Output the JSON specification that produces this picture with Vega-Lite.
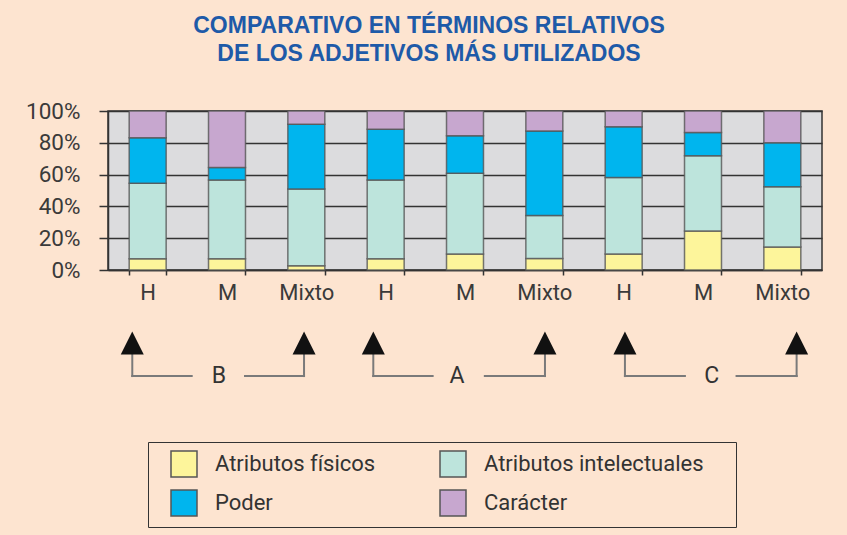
{
  "$schema": "https://vega.github.io/schema/vega-lite/v6.json",
  "width": 714,
  "height": 159,
  "autosize": "none",
  "padding": {"left": 108, "top": 111, "right": 25, "bottom": 265},
  "background": "#fde4d0",
  "title": {
    "text": ["COMPARATIVO EN TÉRMINOS RELATIVOS", "DE LOS ADJETIVOS MÁS UTILIZADOS"],
    "font": "Liberation Sans",
    "fontSize": 23,
    "fontWeight": "bold",
    "color": "#1e5aa8",
    "lineHeight": 28,
    "anchor": "middle",
    "offset": 34,
    "dx": -36
  },
  "config": {
    "view": {"fill": "#dcdcde", "stroke": "#333333", "strokeWidth": 1.5},
    "font": "Roboto"
  },
  "layer": [
    {
      "data": {
        "values": [
          {"grupo": "B-H", "tipo": "Atributos físicos", "orden": 1, "valor": 7},
          {"grupo": "B-H", "tipo": "Atributos intelectuales", "orden": 2, "valor": 47.5},
          {"grupo": "B-H", "tipo": "Poder", "orden": 3, "valor": 28.7},
          {"grupo": "B-H", "tipo": "Carácter", "orden": 4, "valor": 16.8},
          {"grupo": "B-M", "tipo": "Atributos físicos", "orden": 1, "valor": 7},
          {"grupo": "B-M", "tipo": "Atributos intelectuales", "orden": 2, "valor": 49.6},
          {"grupo": "B-M", "tipo": "Poder", "orden": 3, "valor": 7.8},
          {"grupo": "B-M", "tipo": "Carácter", "orden": 4, "valor": 35.6},
          {"grupo": "B-Mixto", "tipo": "Atributos físicos", "orden": 1, "valor": 2.7},
          {"grupo": "B-Mixto", "tipo": "Atributos intelectuales", "orden": 2, "valor": 48.2},
          {"grupo": "B-Mixto", "tipo": "Poder", "orden": 3, "valor": 40.7},
          {"grupo": "B-Mixto", "tipo": "Carácter", "orden": 4, "valor": 8.4},
          {"grupo": "A-H", "tipo": "Atributos físicos", "orden": 1, "valor": 7},
          {"grupo": "A-H", "tipo": "Atributos intelectuales", "orden": 2, "valor": 49.6},
          {"grupo": "A-H", "tipo": "Poder", "orden": 3, "valor": 31.9},
          {"grupo": "A-H", "tipo": "Carácter", "orden": 4, "valor": 11.5},
          {"grupo": "A-M", "tipo": "Atributos físicos", "orden": 1, "valor": 10.1},
          {"grupo": "A-M", "tipo": "Atributos intelectuales", "orden": 2, "valor": 50.7},
          {"grupo": "A-M", "tipo": "Poder", "orden": 3, "valor": 23.7},
          {"grupo": "A-M", "tipo": "Carácter", "orden": 4, "valor": 15.5},
          {"grupo": "A-Mixto", "tipo": "Atributos físicos", "orden": 1, "valor": 7.3},
          {"grupo": "A-Mixto", "tipo": "Atributos intelectuales", "orden": 2, "valor": 26.9},
          {"grupo": "A-Mixto", "tipo": "Poder", "orden": 3, "valor": 53.2},
          {"grupo": "A-Mixto", "tipo": "Carácter", "orden": 4, "valor": 12.6},
          {"grupo": "C-H", "tipo": "Atributos físicos", "orden": 1, "valor": 10.1},
          {"grupo": "C-H", "tipo": "Atributos intelectuales", "orden": 2, "valor": 48},
          {"grupo": "C-H", "tipo": "Poder", "orden": 3, "valor": 32},
          {"grupo": "C-H", "tipo": "Carácter", "orden": 4, "valor": 9.9},
          {"grupo": "C-M", "tipo": "Atributos físicos", "orden": 1, "valor": 24.5},
          {"grupo": "C-M", "tipo": "Atributos intelectuales", "orden": 2, "valor": 47.4},
          {"grupo": "C-M", "tipo": "Poder", "orden": 3, "valor": 14.5},
          {"grupo": "C-M", "tipo": "Carácter", "orden": 4, "valor": 13.6},
          {"grupo": "C-Mixto", "tipo": "Atributos físicos", "orden": 1, "valor": 14.5},
          {"grupo": "C-Mixto", "tipo": "Atributos intelectuales", "orden": 2, "valor": 37.9},
          {"grupo": "C-Mixto", "tipo": "Poder", "orden": 3, "valor": 27.7},
          {"grupo": "C-Mixto", "tipo": "Carácter", "orden": 4, "valor": 19.9}
        ]
      },
      "mark": {"type": "bar", "stroke": "#555555", "strokeWidth": 1.5, "strokeOpacity": 0.8},
      "encoding": {
        "x": {
          "field": "grupo",
          "type": "nominal",
          "sort": ["B-H", "B-M", "B-Mixto", "A-H", "A-M", "A-Mixto", "C-H", "C-M", "C-Mixto"],
          "scale": {"paddingInner": 0.534, "paddingOuter": 0.267},
          "axis": {
            "title": null,
            "labelExpr": "split(datum.value, '-')[1]",
            "labelAngle": 0,
            "tickBand": "extent",
            "tickSize": 5,
            "tickWidth": 1.5,
            "labelPadding": 7,
            "labelFont": "Roboto",
            "labelFontSize": 22,
            "labelColor": "#3a3a3a",
            "tickColor": "#333333",
            "domainColor": "#333333",
            "domainWidth": 1.5
          }
        },
        "y": {
          "field": "valor",
          "type": "quantitative",
          "stack": "normalize",
          "scale": {"domain": [0, 1], "nice": false},
          "axis": {
            "title": null,
            "format": ".0%",
            "values": [0, 0.2, 0.4, 0.6, 0.8, 1],
            "grid": true,
            "gridColor": "#333333",
            "gridWidth": 1.5,
            "tickSize": 9,
            "tickWidth": 1.5,
            "tickColor": "#333333",
            "domainColor": "#333333",
            "domainWidth": 1.5,
            "labelPadding": 19,
            "labelFont": "Roboto",
            "labelFontSize": 22.5,
            "labelColor": "#3a3a3a"
          }
        },
        "color": {
          "field": "tipo",
          "type": "nominal",
          "scale": {
            "domain": ["Atributos físicos", "Atributos intelectuales", "Poder", "Carácter"],
            "range": ["#fdf59b", "#bde4dc", "#00b5ee", "#c7a7cf"]
          },
          "legend": {
            "title": " ",
            "titleOrient": "right",
            "titlePadding": 24,
            "titleFontSize": 8,
            "orient": "none",
            "legendX": 40,
            "legendY": 331,
            "columns": 2,
            "direction": "horizontal",
            "gridAlign": "each",
            "columnPadding": 49,
            "rowPadding": 7,
            "padding": 8,
            "symbolOffset": 14,
            "labelOffset": 17,
            "symbolType": "square",
            "symbolSize": 676,
            "symbolStrokeColor": "#555555",
            "symbolStrokeWidth": 1.5,
            "symbolOpacity": 1,
            "labelFont": "Roboto",
            "labelFontSize": 22,
            "labelColor": "#333333",
            "labelLimit": 400,
            "strokeColor": "#333333"
          }
        },
        "order": {"field": "orden", "type": "quantitative"}
      }
    },
    {
      "layer": [
        {
          "data": {
            "values": [
              {"x": 0.306, "x2": 0.306, "y": -0.528, "y2": -0.667},
              {"x": 0.306, "x2": 1.055, "y": -0.667, "y2": -0.667},
              {"x": 1.727, "x2": 2.471, "y": -0.667, "y2": -0.667},
              {"x": 2.471, "x2": 2.471, "y": -0.528, "y2": -0.667},
              {"x": 3.344, "x2": 3.344, "y": -0.528, "y2": -0.667},
              {"x": 3.344, "x2": 4.092, "y": -0.667, "y2": -0.667},
              {"x": 4.75, "x2": 5.508, "y": -0.667, "y2": -0.667},
              {"x": 5.508, "x2": 5.508, "y": -0.528, "y2": -0.667},
              {"x": 6.516, "x2": 6.516, "y": -0.528, "y2": -0.667},
              {"x": 6.516, "x2": 7.272, "y": -0.667, "y2": -0.667},
              {"x": 7.923, "x2": 8.68, "y": -0.667, "y2": -0.667},
              {"x": 8.68, "x2": 8.68, "y": -0.528, "y2": -0.667}
            ]
          },
          "mark": {"type": "rule", "color": "#7a7a7a", "strokeWidth": 2, "strokeCap": "square"},
          "encoding": {
            "x": {"field": "x", "type": "quantitative", "scale": {"domain": [0, 9], "nice": false, "zero": false}, "axis": null},
            "x2": {"field": "x2"},
            "y": {"field": "y", "type": "quantitative", "scale": {"domain": [0, 1], "nice": false}, "axis": null},
            "y2": {"field": "y2"}
          }
        },
        {
          "data": {
            "values": [
              {"x": 0.306, "y": -0.459},
              {"x": 2.471, "y": -0.459},
              {"x": 3.344, "y": -0.459},
              {"x": 5.508, "y": -0.459},
              {"x": 6.516, "y": -0.459},
              {"x": 8.68, "y": -0.459}
            ]
          },
          "mark": {"type": "point", "shape": "M0,-1L1,1L-1,1Z", "filled": true, "size": 529, "color": "#111111", "opacity": 1},
          "encoding": {
            "x": {"field": "x", "type": "quantitative"},
            "y": {"field": "y", "type": "quantitative"}
          }
        },
        {
          "data": {
            "values": [
              {"x": 1.399, "y": -0.667, "grupo": "B"},
              {"x": 4.4, "y": -0.667, "grupo": "A"},
              {"x": 7.61, "y": -0.667, "grupo": "C"}
            ]
          },
          "mark": {"type": "text", "font": "Roboto", "fontSize": 23, "color": "#333333", "baseline": "middle", "align": "center"},
          "encoding": {
            "x": {"field": "x", "type": "quantitative"},
            "y": {"field": "y", "type": "quantitative"},
            "text": {"field": "grupo"}
          }
        }
      ]
    }
  ],
  "resolve": {"scale": {"x": "independent", "y": "independent", "color": "independent"}}
}
